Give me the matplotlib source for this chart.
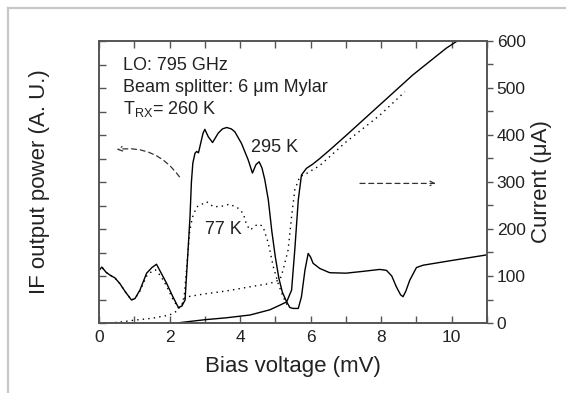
import matplotlib
matplotlib.use("Agg")
import matplotlib.pyplot as plt
from matplotlib.lines import Line2D
from matplotlib.ticker import MultipleLocator

plt.rcParams['font.family'] = ['Liberation Sans', 'DejaVu Sans']
plt.rcParams['mathtext.fontset'] = 'custom'
plt.rcParams['mathtext.rm'] = 'Liberation Sans'
plt.rcParams['mathtext.it'] = 'Liberation Sans:italic'

# ---- data ----
# IF output power, 295 K load (solid), in current-axis units
if295_v = [0.0, 0.08, 0.2, 0.31, 0.45, 0.59, 0.75, 0.92, 1.02, 1.16, 1.35, 1.5, 1.63, 1.75,
           1.92, 2.1, 2.25, 2.35, 2.44, 2.53, 2.58, 2.62, 2.66, 2.72, 2.77, 2.82, 2.86, 2.95,
           3.0, 3.1, 3.22, 3.38, 3.5, 3.62, 3.75, 3.85, 4.04, 4.23, 4.35, 4.45, 4.54, 4.62,
           4.7, 4.8, 4.9, 5.0, 5.1, 5.2, 5.32, 5.41, 5.5, 5.65, 5.74, 5.84, 5.93, 6.0, 6.07,
           6.26, 6.54, 7.0, 7.5, 7.96, 8.15, 8.3, 8.43, 8.55, 8.62, 8.7, 8.81, 9.0, 9.19,
           10.0, 11.0]
if295_p = [112, 119, 108, 102, 96, 84, 66, 49, 52, 70, 106, 118, 125, 108,
           84, 55, 33, 36, 49, 162, 226, 300, 340, 361, 365, 362, 375, 404,
           412, 396, 384, 404, 413, 416, 413, 407, 382, 347, 319, 337, 343, 330,
           305, 262, 195, 140, 95, 65, 45, 33, 31, 31, 56, 113, 148, 140, 127,
           116, 107, 106, 110, 114, 112, 100, 77, 60, 56, 68, 91, 118, 123,
           133, 145]

# IF output power, 77 K load (dotted)
if77_v = [0.0, 0.08, 0.2, 0.31, 0.45, 0.59, 0.75, 0.92, 1.02, 1.16, 1.35, 1.5, 1.6, 1.75,
          1.92, 2.1, 2.25, 2.35, 2.42, 2.5, 2.57, 2.65, 2.77, 2.9, 3.05, 3.25, 3.52, 3.7,
          3.95, 4.09, 4.18, 4.28, 4.4, 4.47, 4.55, 4.65, 4.8, 4.94, 5.08, 5.22, 5.32, 5.41]
if77_p = [112, 119, 108, 102, 96, 84, 66, 49, 52, 68, 100, 110, 113, 100,
          78, 50, 32, 36, 60, 130, 195, 225, 247, 252, 258, 247, 249, 253,
          244, 233, 210, 198, 204, 209, 210, 205, 170, 120, 84, 56, 40, 33]

# I-V curve, 295 K load (solid)
iv295_v = [2.2, 3.0, 3.6, 4.28, 4.84, 5.13, 5.32, 5.46, 5.55, 5.65, 5.74, 5.88, 6.06,
           6.26, 6.54, 7.02, 7.96, 8.9, 9.85, 10.4]
iv295_i = [0, 7, 11, 17, 28, 38, 45, 70, 155, 262, 315, 329, 338,
           350, 368, 400, 464, 528, 585, 612]

# I-V curve, 77 K load (dotted)
iv77_v = [0.3, 0.6, 1.0, 1.5, 2.0, 2.2, 2.35, 2.45, 2.6, 3.0, 3.6, 4.28, 4.84, 5.13,
          5.22, 5.36, 5.46, 5.55, 5.69, 5.88, 6.26, 7.0, 7.96, 8.67]
iv77_i = [0, 2, 6, 10, 17, 25, 40, 55, 57, 62, 68, 77, 84, 92,
          113, 155, 226, 283, 311, 318, 335, 385, 442, 492]

x_ticks = [0, 2, 4, 6, 8, 10]
y_ticks = [0, 100, 200, 300, 400, 500, 600]

# ---- figure ----
fig = plt.figure(figsize=(5.66, 3.93), dpi=100)
ax = fig.add_axes([99/566, 1-323/393, 388/566, 282/393])
ax2 = ax.twinx()

spine_c = '#555555'
dot = (0, (1, 3))
ax.plot(if295_v, if295_p, color='black', lw=1.0)
ax.plot(if77_v, if77_p, color='black', lw=1.0, linestyle=dot)
ax.plot(iv295_v, iv295_i, color='black', lw=1.0)
ax.plot(iv77_v, iv77_i, color='black', lw=1.0, linestyle=dot)

ax.set_xlim(0, 11)
ax.set_ylim(0, 600)
ax2.set_ylim(0, 600)

ax.set_xticks(x_ticks)
ax.xaxis.set_minor_locator(MultipleLocator(1))
ax.yaxis.set_major_locator(MultipleLocator(50))
ax.set_yticklabels([])
ax.tick_params(axis='x', which='both', direction='in', top=True, length=5, width=1,
               color=spine_c, labelsize=12.5, pad=5, labelcolor='#222222')
ax.tick_params(axis='y', which='both', direction='in', length=5, width=1, color=spine_c)

ax2.set_yticks(y_ticks)
ax2.yaxis.set_minor_locator(MultipleLocator(50))
ax2.tick_params(axis='y', which='both', direction='out', length=4, width=1, color=spine_c,
                labelsize=12.5, pad=3, labelcolor='#222222')

for a in (ax, ax2):
    for s in a.spines.values():
        s.set_color(spine_c)
        s.set_linewidth(1.2)

ax.set_xlabel('Bias voltage (mV)', fontsize=16, color='#222222', labelpad=8)
ax.set_ylabel('IF output power (A. U.)', fontsize=16, color='#222222', labelpad=32)
ax2.set_ylabel('Current (\u03bcA)', fontsize=16, color='#222222', labelpad=4)

tc = '#222222'
ax.text(0.69, 547, 'LO: 795 GHz', fontsize=13, color=tc, va='center')
ax.text(0.69, 500, 'Beam splitter: 6 \u03bcm Mylar', fontsize=13, color=tc, va='center')
ax.text(0.69, 455, r'T$_{\mathrm{RX}}$= 260 K', fontsize=13, color=tc, va='center')
ax.text(4.32, 374, '295 K', fontsize=13, color=tc, va='center')
ax.text(3.01, 198, '77 K', fontsize=13, color=tc, va='center')

ax.annotate('', xy=(0.5, 369), xytext=(2.28, 311),
            arrowprops=dict(arrowstyle='->', linestyle=(0, (4, 3)), color='#333333', lw=0.9,
                            connectionstyle='arc3,rad=0.3', shrinkA=0, shrinkB=0,
                            mutation_scale=8))
ax.annotate('', xy=(9.55, 297), xytext=(7.4, 297),
            arrowprops=dict(arrowstyle='->', linestyle=(0, (4, 3)), color='#333333', lw=0.9,
                            shrinkA=0, shrinkB=0, mutation_scale=8))

# light gray frame lines (left, top)
fig.add_artist(Line2D([7.5/566, 7.5/566], [0, 1-7.5/393], transform=fig.transFigure,
                      color='#c8c8c8', lw=1.6))
fig.add_artist(Line2D([7.5/566, 1], [1-7.5/393, 1-7.5/393], transform=fig.transFigure,
                      color='#c8c8c8', lw=1.6))

fig.savefig('out.png', dpi=100)
